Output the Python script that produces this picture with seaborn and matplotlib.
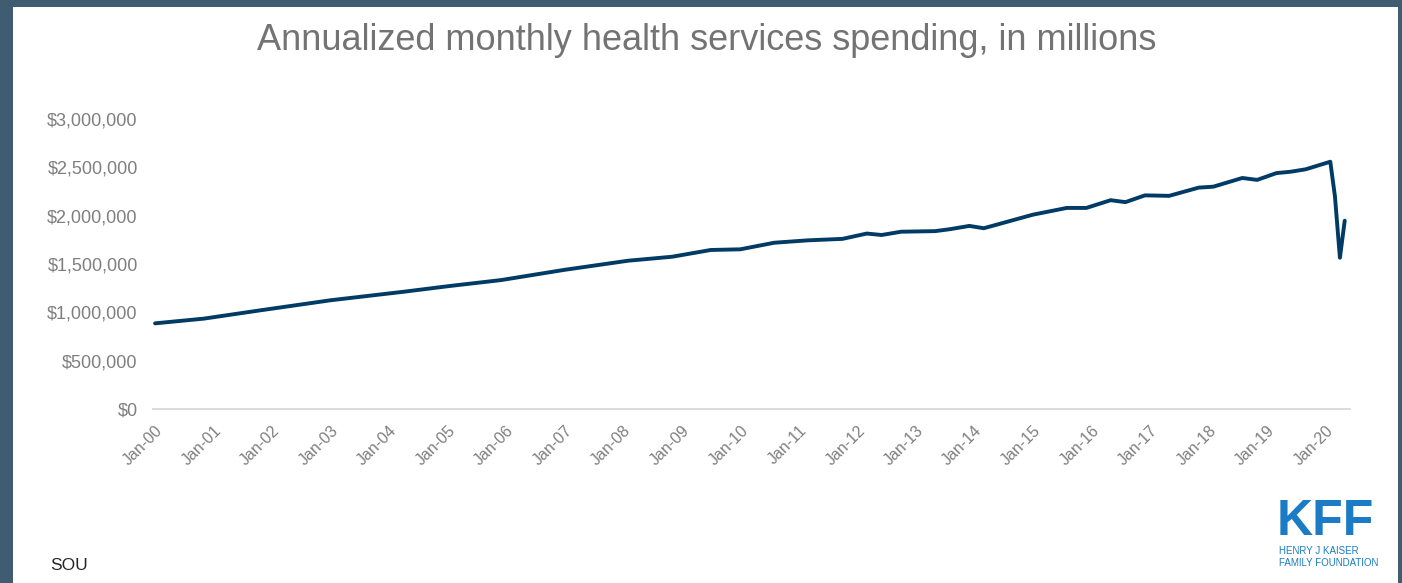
import matplotlib
matplotlib.use("Agg")
import matplotlib.pyplot as plt
import matplotlib.dates as mdates
from matplotlib.patches import Rectangle
import matplotlib.ticker as mticker
import seaborn as sns
import pandas as pd

# ---- data (in $ millions, annualized) ----
months = ["2000-01", "2000-11", "2001-11", "2003-01", "2004-04", "2005-01", "2005-12",
          "2007-01", "2008-02", "2008-11", "2009-07", "2010-01", "2010-08", "2011-03",
          "2011-10", "2012-03", "2012-06", "2012-10", "2013-05", "2013-08", "2013-12",
          "2014-03", "2015-01", "2015-08", "2015-12", "2016-05", "2016-08", "2016-12",
          "2017-05", "2017-11", "2018-02", "2018-08", "2018-11", "2019-03", "2019-06",
          "2019-09", "2020-02", "2020-03", "2020-04", "2020-05"]
spending = [886000, 935000, 1024000, 1125000, 1213000, 1270000, 1334000,
            1440000, 1534000, 1575000, 1645000, 1652000, 1720000, 1745000,
            1760000, 1815000, 1800000, 1834000, 1840000, 1860000, 1894000,
            1870000, 2010000, 2080000, 2080000, 2160000, 2140000, 2210000,
            2205000, 2290000, 2300000, 2390000, 2370000, 2440000, 2455000,
            2480000, 2558000, 2200000, 1565000, 1948000]
year_ticks = [f"{y}-01-01" for y in range(2000, 2021)]
y_ticks = [0, 500000, 1000000, 1500000, 2000000, 2500000, 3000000]

title = "Annualized monthly health services spending, in millions"

df = pd.DataFrame({"date": pd.to_datetime(months), "value": spending})

sns.set_theme(style="white")
plt.rcParams["font.family"] = ["Liberation Sans", "DejaVu Sans"]

W, H = 1402, 583
fig = plt.figure(figsize=(W / 100, H / 100), dpi=100)
fig.patch.set_facecolor("#405c70")
fig.add_artist(Rectangle((13 / W, 0), (1398 - 13) / W, (H - 7) / H,
                         transform=fig.transFigure, facecolor="white",
                         edgecolor="none", zorder=0))

ax = fig.add_axes([153 / W, 1 - 409 / H, (1350 - 153) / W, (409 - 119) / H])
ax.set_facecolor("none")
sns.lineplot(data=df, x="date", y="value", ax=ax, color="#003b66",
             linewidth=2.8, solid_joinstyle="round", solid_capstyle="round")

ax.set_ylim(0, 3000000)
ax.set_yticks(y_ticks)
ax.yaxis.set_major_formatter(mticker.FuncFormatter(lambda v, p: f"${v:,.0f}"))
ax.set_xlim(pd.Timestamp("1999-12-19"), pd.Timestamp("2020-06-03"))
ax.set_xticks(pd.to_datetime(year_ticks))
ax.xaxis.set_major_formatter(mdates.DateFormatter("%b-%y"))

for s in ["top", "right", "left"]:
    ax.spines[s].set_visible(False)
ax.spines["bottom"].set_color("#d9d9d9")
ax.spines["bottom"].set_linewidth(1.3)
ax.tick_params(axis="y", length=0, pad=11, labelsize=13, labelcolor="#7f7f7f")
ax.tick_params(axis="x", length=0, pad=10, labelsize=11.5, labelcolor="#7f7f7f")
for lab in ax.get_xticklabels():
    lab.set_rotation(45)
    lab.set_ha("right")
    lab.set_va("top")
    lab.set_rotation_mode("anchor")
ax.set_xlabel("")
ax.set_ylabel("")
ax.grid(False)

fig.text(707 / W, 1 - 40 / H, title, ha="center", va="center",
         fontsize=26, color="#737373")
fig.text(50 / W, 1 - 566 / H, "SOU", ha="left", va="center",
         fontsize=12.5, color="#262626")

fig.text(1277 / W, 1 - 522 / H, "KFF", ha="left", va="center",
         fontsize=36, fontweight="bold", color="#1b7bc4")
fig.text(1279 / W, 1 - 551 / H, "HENRY J KAISER", ha="left", va="center",
         fontsize=7, color="#1b7bc4")
fig.text(1279 / W, 1 - 563 / H, "FAMILY FOUNDATION", ha="left", va="center",
         fontsize=7, color="#1b7bc4")

fig.savefig("out.png", dpi=100, facecolor=fig.get_facecolor())
